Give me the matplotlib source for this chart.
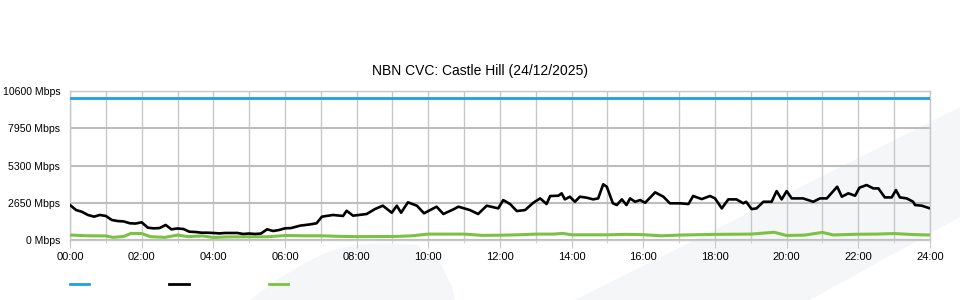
import numpy as np
import matplotlib
matplotlib.use("Agg")
import matplotlib.pyplot as plt
from matplotlib.patches import Polygon
from matplotlib.lines import Line2D

plt.rcParams['font.family'] = ['Liberation Sans', 'DejaVu Sans']

# DATA (hours since midnight, Mbps)
capacity_mbps = 10080

used_t = [0.00, 0.17, 0.33, 0.50, 0.67, 0.83, 1.00, 1.17, 1.33, 1.50, 1.67, 1.83,
          2.00, 2.17, 2.33, 2.50, 2.67, 2.83, 3.00, 3.17, 3.33, 3.50, 3.67, 3.83,
          4.00, 4.17, 4.33, 4.50, 4.67, 4.83, 5.00, 5.17, 5.33, 5.50, 5.67, 5.83,
          6.00, 6.17, 6.42, 6.70, 6.88, 7.03, 7.34, 7.62, 7.72, 7.90, 8.28, 8.51,
          8.73, 8.98, 9.12, 9.24, 9.43, 9.68, 9.88, 10.23, 10.42, 10.70, 10.84,
          11.16, 11.39, 11.63, 11.95, 12.09, 12.28, 12.47, 12.70, 12.93, 13.12,
          13.30, 13.40, 13.63, 13.72, 13.81, 13.95, 14.09, 14.23, 14.42, 14.60,
          14.74, 14.88, 14.98, 15.15, 15.26, 15.40, 15.53, 15.63, 15.77, 15.91,
          16.05, 16.33, 16.56, 16.74, 17.02, 17.26, 17.39, 17.63, 17.86, 18.00,
          18.19, 18.37, 18.60, 18.79, 18.87, 19.02, 19.16, 19.35, 19.58, 19.72,
          19.86, 20.00, 20.14, 20.46, 20.74, 20.93, 21.12, 21.41, 21.54, 21.72,
          21.91, 22.03, 22.23, 22.42, 22.56, 22.74, 22.93, 23.05, 23.16, 23.35,
          23.53, 23.58, 23.77, 24.00]
used_v = [2490, 2130, 2010, 1780, 1660, 1780, 1710, 1420, 1350, 1320, 1190, 1170,
          1260, 880, 830, 850, 1070, 760, 820, 780, 590, 570, 520, 520,
          500, 470, 500, 500, 500, 430, 460, 430, 460, 760, 640, 710,
          830, 850, 1020, 1110, 1190, 1660, 1780, 1710, 2080, 1730, 1850, 2200,
          2440, 1940, 2440, 1940, 2680, 2440, 1900, 2370, 1850, 2180, 2370,
          2130, 1850, 2440, 2250, 2840, 2560, 2060, 2130, 2650, 2960,
          2560, 3130, 3150, 3320, 2890, 3080, 2720, 3080, 3010, 2890,
          2960, 3960, 3790, 2610, 2490, 2890, 2490, 2960, 2720, 2840,
          2650, 3390, 3080, 2610, 2610, 2560, 3130, 2910, 3130, 2960,
          2250, 2890, 2890, 2610, 2720, 2200, 2250, 2720, 2720, 3480,
          2890, 3480, 2960, 2960, 2720, 2960, 2960, 3790, 3080, 3320,
          3150, 3720, 3910, 3670, 3670, 3030, 3030, 3550, 3030, 2960,
          2720, 2490, 2440, 2250]

other_t = [0.0, 0.5, 1.0, 1.2, 1.5, 1.7, 2.0, 2.25, 2.65, 3.0, 3.3, 3.7, 4.0, 4.4,
           5.0, 5.5, 6.0, 6.5, 7.0, 7.5, 8.0, 9.0, 9.5, 10.0, 11.0, 11.5, 12.0,
           12.5, 13.0, 13.5, 13.75, 14.0, 15.0, 15.5, 16.0, 16.5, 17.0, 18.0, 19.0,
           19.65, 20.0, 20.5, 21.0, 21.3, 22.0, 22.5, 23.0, 23.5, 24.0]
other_v = [355, 300, 290, 190, 250, 470, 460, 235, 190, 350, 240, 290, 180, 220,
           230, 230, 320, 300, 300, 260, 240, 250, 290, 420, 420, 330, 340,
           370, 420, 420, 470, 370, 370, 400, 380, 300, 350, 400, 420,
           550, 320, 350, 540, 360, 410, 420, 460, 390, 355]

y_ticks = [0, 2650, 5300, 7950, 10600]
y_labels = [f"{v} Mbps" for v in y_ticks]
x_major = list(range(0, 25, 2))
x_labels = [f"{h:02d}:00" for h in x_major]
title = "NBN CVC: Castle Hill (24/12/2025)"

fig = plt.figure(figsize=(9.6, 3.0), dpi=100)

# faint background watermark shapes (pixel coords -> figure fraction)
def px(points):
    return [(x / 960, 1 - y / 300) for x, y in points]

shade = '#f5f6f8'
fig.patches.append(Polygon(px([(250, 300), (275, 281), (305, 263), (330, 251), (355, 245),
                               (385, 243), (417, 245), (440, 262), (452, 287), (455, 300)]),
                           closed=True, transform=fig.transFigure, fc=shade, ec='none', zorder=-5))
fig.patches.append(Polygon(px([(575, 300), (960, 107), (960, 217), (810, 300)]),
                           closed=True, transform=fig.transFigure, fc=shade, ec='none', zorder=-5))

ax = fig.add_axes([70 / 960, 60 / 300, 860 / 960, 149 / 300])
ax.set_facecolor('none')
ax.set_zorder(1)

ax.set_xlim(0, 24)
ax.set_ylim(0, 10600)
ax.set_xticks(x_major)
ax.set_xticklabels(x_labels)
ax.set_xticks(range(1, 24, 2), minor=True)
ax.set_yticks(y_ticks)
ax.set_yticklabels(y_labels, va='center_baseline')

ax.grid(axis='y', color='#bdbdbd', lw=1.5, zorder=1)
ax.grid(axis='x', which='both', color='#c8c8c8', lw=1.0, zorder=1)
for s in ax.spines.values():
    s.set_color('#c8c8c8')
    s.set_linewidth(1.0)

ax.tick_params(axis='x', which='major', length=6, color='#c8c8c8', labelsize=8, pad=3)
ax.tick_params(axis='x', which='minor', length=2, color='#c8c8c8')
ax.tick_params(axis='y', length=0, labelsize=7.6, pad=7)

ax.axhline(capacity_mbps, color='#1ba1e2', lw=2, zorder=3)
ax.plot(used_t, used_v, color='#000000', lw=1.9, zorder=4)
ax.plot(other_t, other_v, color='#7cc242', lw=2.2, zorder=3)

fig.text(480 / 960, 1 - 71 / 300, title, ha='center', va='center', fontsize=10)

handles = [Line2D([], [], color='#1ba1e2', lw=2),
           Line2D([], [], color='#000000', lw=2),
           Line2D([], [], color='#7cc242', lw=2)]
fig.legend(handles, ['', '', ''], ncol=3, loc='center left',
           bbox_to_anchor=(70 / 960, 1 - 285 / 300), frameon=False, fontsize=10,
           handlelength=1.4, handletextpad=0.0, columnspacing=5.75, borderpad=0, borderaxespad=0)

fig.savefig('out.png', dpi=100, facecolor='white')
